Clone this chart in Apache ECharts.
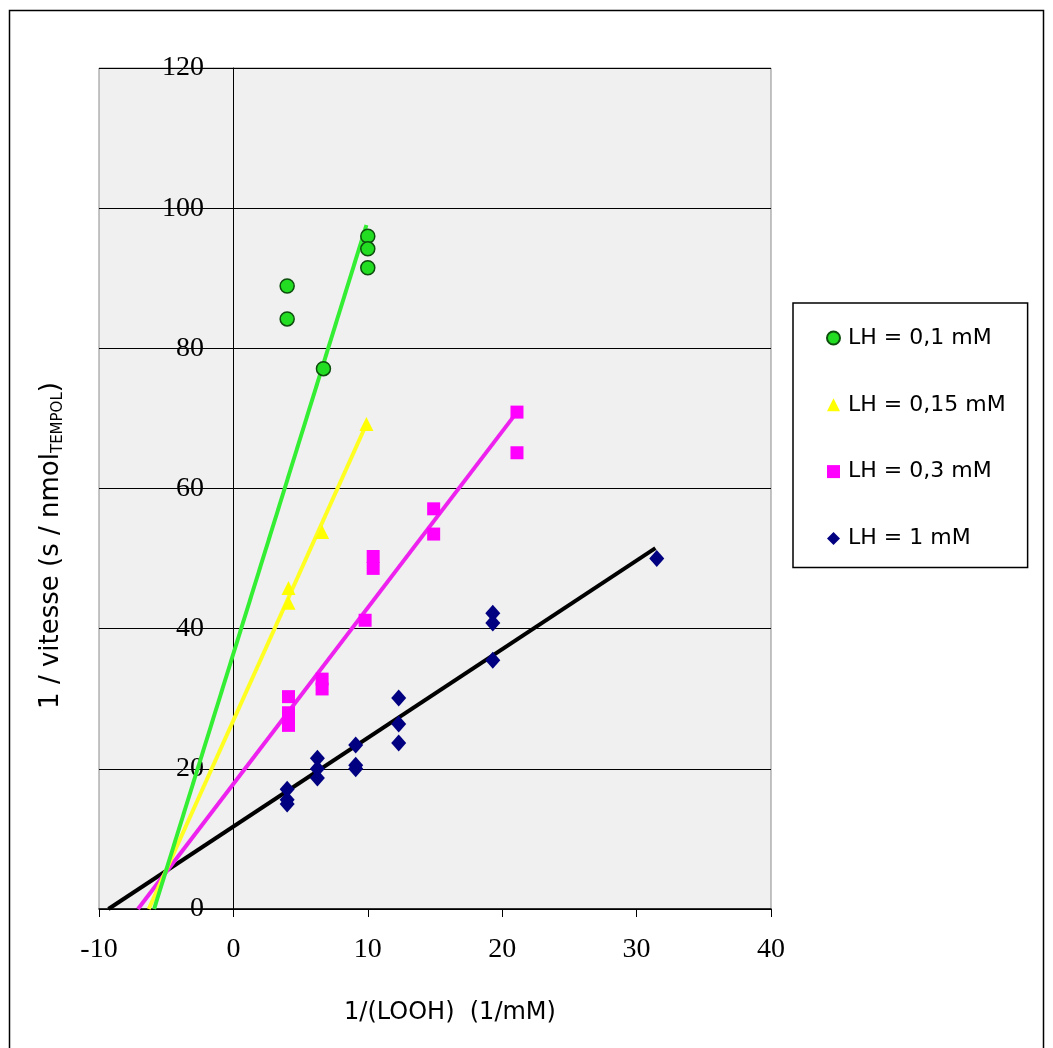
<!DOCTYPE html>
<html>
<head>
<meta charset="utf-8">
<script src="https://cdn.jsdelivr.net/npm/echarts@6/dist/echarts.min.js"></script>
<style>
html,body{margin:0;padding:0;background:#fff;}
#chart{width:1053px;height:1048px;}
</style>
</head>
<body>
<div id="chart"></div>
<script>
// ---- Data ----
const seriesNames = ['LH = 0,1 mM', 'LH = 0,15 mM', 'LH = 0,3 mM', 'LH = 1 mM'];

const greenX = [4.0, 4.0, 6.7, 10.0, 10.0, 10.0];
const greenY = [88.9, 84.2, 77.1, 96.0, 94.2, 91.5];

const yellowX = [4.1, 4.1, 6.6, 9.9];
const yellowY = [45.8, 43.7, 53.8, 69.2];

const magentaX = [4.1, 4.1, 4.1, 6.6, 6.6, 9.8, 10.4, 10.4, 14.9, 14.9, 21.1, 21.1];
const magentaY = [30.3, 28.0, 26.2, 32.8, 31.4, 41.2, 50.3, 48.6, 57.1, 53.5, 70.9, 65.1];

const navyX = [4.0, 4.0, 4.0, 6.25, 6.25, 6.25, 9.1, 9.1, 9.1, 12.3, 12.3, 12.3, 19.3, 19.3, 19.3, 31.5];
const navyY = [17.1, 15.6, 15.0, 21.5, 20.0, 18.7, 23.4, 20.5, 20.0, 30.1, 26.4, 23.7, 42.2, 40.8, 35.5, 50.0];

// trend line end points [x, y]
const greenTrend = [[-5.9, 0], [9.9, 97.6]];
const yellowTrend = [[-6.3, 0], [9.9, 69.2]];
const magentaTrend = [[-7.1, 0], [21.1, 70.9]];
const navyTrend = [[-9.3, 0], [31.4, 51.5]];

const xMin = -10, xMax = 40, xStep = 10;
const yMin = 0, yMax = 120, yStep = 20;

const xTitle = '1/(LOOH)  (1/mM)';

function pairs(xs, ys) { return xs.map((x, i) => [x, ys[i]]); }

const chart = echarts.init(document.getElementById('chart'), null, {renderer: 'canvas'});

const tickFont = {fontFamily: 'Liberation Serif', fontSize: 28, color: '#000'};

const option = {
  backgroundColor: '#ffffff',
  animation: false,
  graphic: [{
    type: 'rect',
    shape: {x: 9.5, y: 10.5, width: 1034, height: 1100},
    style: {fill: 'none', stroke: '#000', lineWidth: 1.5},
    silent: true
  }],
  grid: {
    left: 99, top: 68, width: 672, height: 841,
    containLabel: false, outerBoundsMode: 'none',
    show: true, backgroundColor: '#f0f0f0', borderColor: '#8c8c8c', borderWidth: 1
  },
  legend: {
    orient: 'vertical',
    left: 793, top: 303,
    padding: [23, 22, 17, 33],
    itemGap: 42.8,
    itemWidth: 13, itemHeight: 13,
    borderColor: '#000', borderWidth: 1.5,
    backgroundColor: '#fff',
    data: seriesNames,
    textStyle: {fontFamily: 'DejaVu Sans', fontSize: 22, color: '#000', lineHeight: 24, padding: [0, 0, 0, 3]}
  },
  xAxis: {
    type: 'value', min: xMin, max: xMax, interval: xStep,
    name: xTitle, nameLocation: 'middle', nameGap: 92,
    nameTextStyle: {fontFamily: 'DejaVu Sans', fontSize: 24, color: '#000', padding: [0, 0, 0, 30]},
    axisLine: {show: true, onZero: false, lineStyle: {color: '#000', width: 1.5}},
    axisTick: {show: true, length: 8, lineStyle: {color: '#000', width: 1}},
    axisLabel: Object.assign({margin: 27}, tickFont),
    splitLine: {show: false}
  },
  yAxis: {
    type: 'value', min: yMin, max: yMax, interval: yStep,
    position: 'left', offset: -134,
    name: '{m|1 / vitesse (s / nmol}{s|TEMPOL}{m|)}',
    nameLocation: 'middle', nameGap: 167, nameRotate: 90,
    nameTextStyle: {
      padding: [0, 114, 0, 0],
      rich: {
        m: {fontFamily: 'DejaVu Sans', fontSize: 26, color: '#000', lineHeight: 30},
        s: {fontFamily: 'DejaVu Sans', fontSize: 15, color: '#000', lineHeight: 15, verticalAlign: 'bottom'}
      }
    },
    axisLine: {show: true, onZero: false, lineStyle: {color: '#000', width: 1}},
    axisTick: {show: true, length: 8, lineStyle: {color: '#000', width: 1}},
    axisLabel: Object.assign({margin: 29}, tickFont),
    splitLine: {show: true, lineStyle: {color: '#000', width: 1}}
  },
  series: [
    {type: 'line', data: navyTrend, symbol: 'none', z: 2, silent: true,
     lineStyle: {color: '#000000', width: 4}},
    {type: 'line', data: magentaTrend, symbol: 'none', z: 3, silent: true,
     lineStyle: {color: '#ee22ee', width: 4}},
    {type: 'line', data: yellowTrend, symbol: 'none', z: 4, silent: true,
     lineStyle: {color: '#ffff22', width: 4}},
    {type: 'line', data: greenTrend, symbol: 'none', z: 5, silent: true,
     lineStyle: {color: '#33ee33', width: 4}},
    {name: seriesNames[0], type: 'scatter', data: pairs(greenX, greenY), z: 10,
     symbol: 'circle', symbolSize: 14,
     itemStyle: {color: '#22dd22', borderColor: '#0d4d0d', borderWidth: 1.5, opacity: 1}},
    {name: seriesNames[1], type: 'scatter', data: pairs(yellowX, yellowY), z: 10,
     symbol: 'triangle', symbolSize: 14,
     itemStyle: {color: '#ffff00', opacity: 1}},
    {name: seriesNames[2], type: 'scatter', data: pairs(magentaX, magentaY), z: 10,
     symbol: 'rect', symbolSize: 13,
     itemStyle: {color: '#ff00ff', opacity: 1}},
    {name: seriesNames[3], type: 'scatter', data: pairs(navyX, navyY), z: 10,
     symbol: 'diamond', symbolSize: [15, 17],
     itemStyle: {color: '#000080', opacity: 1}}
  ]
};

chart.setOption(option);
</script>
</body>
</html>
